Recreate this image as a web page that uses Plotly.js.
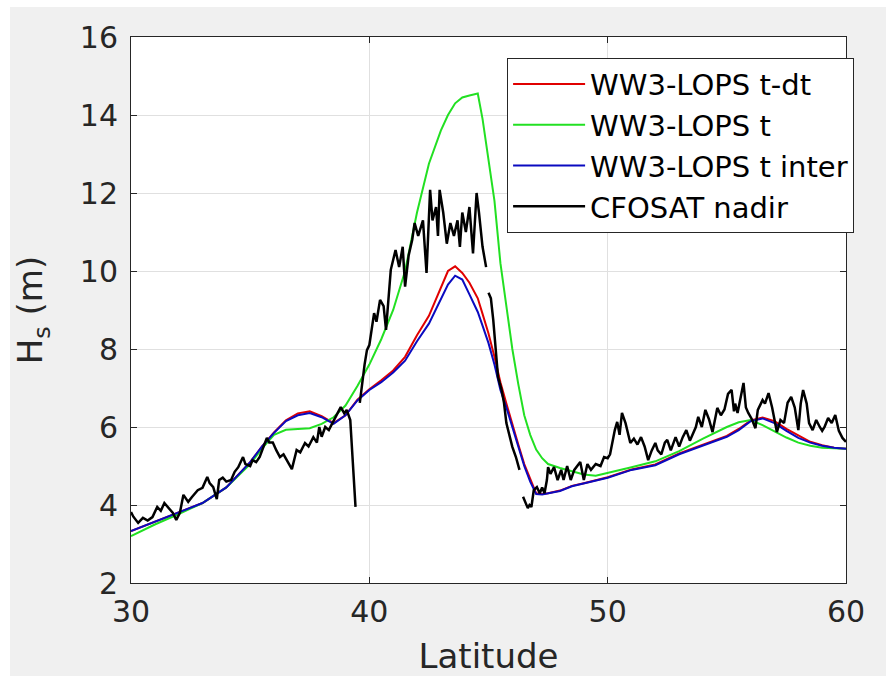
<!DOCTYPE html>
<html>
<head>
<meta charset="utf-8">
<script src="https://cdn.plot.ly/plotly-3.0.1.min.js"></script>
<style>
  html, body { margin: 0; padding: 0; background: #ffffff; width: 890px; height: 676px; overflow: hidden; }
  #chart { position: absolute; left: 10px; top: 7px; width: 876px; height: 669px; }
</style>
</head>
<body>
<div id="chart"></div>
<script>
// ---- Data ----
const seriesNames = ["WW3-LOPS t-dt", "WW3-LOPS t", "WW3-LOPS t inter", "CFOSAT nadir"];

const modelLat = [30, 31, 32, 33, 34, 35, 35.5, 36, 36.5, 37, 37.5, 38, 38.5, 39, 39.5, 40, 40.5, 41, 41.5, 42, 42.5, 43, 43.3, 43.6, 43.9, 44.2, 44.55, 44.75, 45, 45.25, 45.5, 45.75, 46, 46.25, 46.5, 46.75, 47, 47.25, 47.5, 48, 48.5, 49, 49.5, 50, 51, 52, 53, 54, 55, 55.5, 56, 56.5, 57, 57.5, 58, 58.5, 59, 59.5, 60];

const hsTdt = [3.33, 3.57, 3.79, 4.05, 4.45, 5.1, 5.5, 5.86, 6.17, 6.35, 6.4, 6.28, 6.1, 6.3, 6.7, 6.97, 7.2, 7.45, 7.8, 8.35, 8.85, 9.55, 10.0, 10.12, 9.95, 9.7, 9.3, 8.9, 8.4, 7.8, 7.15, 6.6, 6.05, 5.55, 5.05, 4.65, 4.3, 4.28, 4.3, 4.37, 4.49, 4.56, 4.63, 4.71, 4.91, 5.04, 5.32, 5.54, 5.77, 5.95, 6.17, 6.24, 6.15, 5.95, 5.78, 5.62, 5.53, 5.47, 5.44];

const hsT = [3.2, 3.5, 3.77, 4.05, 4.45, 5.05, 5.45, 5.8, 5.93, 5.95, 5.97, 6.08, 6.25, 6.55, 7.05, 7.6, 8.25, 9.0, 10.0, 11.5, 12.75, 13.6, 14.0, 14.3, 14.45, 14.5, 14.55, 13.9, 12.9, 11.8, 10.2, 9.1, 8.0, 7.1, 6.3, 5.8, 5.42, 5.2, 5.05, 4.95, 4.87, 4.78, 4.75, 4.82, 4.97, 5.12, 5.38, 5.7, 6.0, 6.12, 6.18, 6.05, 5.88, 5.73, 5.6, 5.52, 5.47, 5.45, 5.44];

const hsTinter = [3.33, 3.57, 3.79, 4.05, 4.45, 5.1, 5.5, 5.85, 6.15, 6.3, 6.36, 6.25, 6.08, 6.3, 6.68, 6.95, 7.15, 7.4, 7.7, 8.2, 8.65, 9.3, 9.65, 9.88, 9.78, 9.4, 8.95, 8.6, 8.15, 7.6, 6.95, 6.5, 6.0, 5.5, 5.0, 4.6, 4.28, 4.27, 4.3, 4.36, 4.48, 4.55, 4.62, 4.7, 4.9, 5.02, 5.3, 5.52, 5.75, 5.92, 6.15, 6.22, 6.1, 5.9, 5.72, 5.6, 5.52, 5.47, 5.44];

const cfosatLat = [30.0, 30.1, 30.3, 30.5, 30.7, 30.9, 31.1, 31.25, 31.4, 31.6, 31.75, 31.9, 32.05, 32.2, 32.4, 32.55, 32.8, 33.0, 33.2, 33.3, 33.45, 33.6, 33.7, 33.85, 34.0, 34.2, 34.35, 34.5, 34.7, 34.8, 35.0, 35.1, 35.25, 35.4, 35.55, 35.7, 35.8, 35.95, 36.1, 36.25, 36.4, 36.55, 36.75, 36.95, 37.1, 37.3, 37.45, 37.65, 37.8, 37.9, 38.0, 38.15, 38.3, 38.45, 38.6, 38.8, 38.95, 39.05, 39.2, 39.28, 39.35, 39.42, 39.5, 39.6, 39.7, 39.8, 39.9, 40.0, 40.2, 40.3, 40.45, 40.6, 40.7, 40.8, 40.9, 41.1, 41.25, 41.4, 41.5, 41.65, 41.8, 41.9, 42.05, 42.25, 42.4, 42.55, 42.65, 42.8, 42.88, 42.95, 43.1, 43.25, 43.4, 43.55, 43.7, 43.8, 43.9, 44.05, 44.2, 44.35, 44.42, 44.5, 44.6, 44.75, 44.9, 44.95, 45.0, 45.1, 45.2, 45.3, 45.4, 45.55, 45.65, 45.75, 45.9, 46.0, 46.15, 46.3, 46.38, 46.45, 46.55, 46.65, 46.72, 46.8, 46.9, 47.03, 47.15, 47.25, 47.35, 47.45, 47.5, 47.6, 47.75, 47.9, 48.05, 48.15, 48.3, 48.45, 48.6, 48.85, 49.0, 49.15, 49.3, 49.5, 49.7, 49.85, 50.0, 50.1, 50.3, 50.4, 50.5, 50.6, 50.75, 50.95, 51.1, 51.25, 51.4, 51.55, 51.7, 51.85, 52.0, 52.1, 52.25, 52.4, 52.5, 52.65, 52.85, 53.0, 53.15, 53.3, 53.45, 53.55, 53.7, 53.8, 53.95, 54.1, 54.25, 54.4, 54.5, 54.6, 54.75, 54.9, 55.05, 55.2, 55.3, 55.35, 55.45, 55.6, 55.7, 55.8, 55.9, 56.05, 56.2, 56.3, 56.5, 56.6, 56.75, 56.9, 57.0, 57.1, 57.25, 57.4, 57.55, 57.7, 57.85, 58.0, 58.1, 58.2, 58.35, 58.45, 58.6, 58.75, 58.9, 59.0, 59.1, 59.25, 59.4, 59.55, 59.7, 59.85, 60.0];

const cfosatHs = [3.82, 3.7, 3.54, 3.67, 3.6, 3.69, 3.95, 3.85, 4.05, 3.92, 3.8, 3.62, 3.8, 4.26, 4.08, 4.2, 4.38, 4.44, 4.72, 4.56, 4.46, 4.15, 4.64, 4.7, 4.6, 4.64, 4.85, 4.97, 5.23, 5.05, 5.0, 5.15, 5.1, 5.23, 5.46, 5.72, 5.6, 5.6, 5.4, 5.23, 5.3, 5.15, 4.92, 5.41, 5.35, 5.59, 5.5, 5.74, 5.6, 6.0, 5.75, 6.0, 5.92, 6.1, 6.26, 6.51, 6.35, 6.44, 6.18, 5.35, 4.5, 3.95, null, 6.62, 7.2, 7.6, 7.97, 8.1, 8.92, 8.7, 9.26, 9.1, 8.49, 9.2, 10.03, 10.54, 10.1, 10.62, 9.6, 10.4, 10.8, 11.23, 10.9, 11.3, 9.95, 12.08, 11.3, 11.64, 10.9, 12.08, 11.5, 10.7, 11.23, 10.9, 11.3, 10.62, 11.5, 11.0, 11.64, 10.45, 11.3, 12.0, 11.5, 10.62, 10.1, null, 9.44, 9.3, 8.74, 7.9, 7.28, 6.95, 6.62, 6.1, 5.74, 5.49, 5.23, 4.9, null, 4.21, 4.05, 3.92, 4.0, 3.95, 4.38, 4.46, 4.3, 4.45, 4.3, 4.64, 4.97, 4.8, 4.97, 4.64, 4.9, 4.64, 5.0, 4.64, 4.9, 5.1, 4.64, 5.05, 4.9, 5.05, 5.0, 5.23, 5.2, 5.3, 5.92, 6.13, 5.8, 6.36, 6.1, 5.59, 5.7, 5.55, 5.74, 5.5, 5.15, 5.4, 5.59, 5.4, 5.3, 5.6, 5.67, 5.4, 5.74, 5.5, 5.74, 5.92, 5.65, 5.8, 6.0, 6.26, 6.0, 6.44, 6.2, 5.87, 6.2, 6.49, 6.3, 6.45, 6.85, 6.95, 6.4, 6.6, 6.36, 6.87, 7.13, 6.5, 6.36, 6.2, 5.97, 6.44, 6.69, 6.6, 6.87, 6.5, 6.2, 5.87, 6.18, 6.1, 6.62, 6.77, 6.5, 5.92, 6.6, 6.95, 6.6, 6.1, 5.92, 6.18, 6.0, 5.9, 6.0, 6.23, 6.1, 6.31, 5.9, 5.72, 5.62];

const xTicks = [30, 40, 50, 60];
const yTicks = [2, 4, 6, 8, 10, 12, 14, 16];

// ---- Chart ----
const FONT = "DejaVu Sans, sans-serif";
const INK = "#262626";

const traces = [
  { x: modelLat, y: hsTdt, name: seriesNames[0], mode: "lines",
    line: { color: "#e00000", width: 2 } },
  { x: modelLat, y: hsT, name: seriesNames[1], mode: "lines",
    line: { color: "#22e022", width: 2 } },
  { x: modelLat, y: hsTinter, name: seriesNames[2], mode: "lines",
    line: { color: "#0a0ac0", width: 2 } },
  { x: cfosatLat, y: cfosatHs, name: seriesNames[3], mode: "lines",
    connectgaps: false, line: { color: "#000000", width: 2.5 } }
];

const layout = {
  width: 876, height: 669,
  paper_bgcolor: "#f0f0f0",
  plot_bgcolor: "#ffffff",
  margin: { l: 121, r: 40, t: 30, b: 93, pad: 0 },
  font: { family: FONT, color: INK, size: 30 },
  showlegend: true,
  legend: {
    x: 0.526, y: 0.962, xanchor: "left", yanchor: "top",
    bgcolor: "#ffffff", bordercolor: INK, borderwidth: 1,
    font: { family: FONT, size: 29, color: "#000000" },
    itemwidth: 72, traceorder: "normal"
  },
  xaxis: {
    range: [30, 60], tickvals: xTicks, ticktext: xTicks.map(String),
    showgrid: true, gridcolor: "#e0e0e0", gridwidth: 1,
    zeroline: false, showline: true, linecolor: INK, linewidth: 1, mirror: "ticks",
    ticks: "inside", ticklen: 6, tickcolor: INK, ticklabelstandoff: 2,
    tickfont: { family: FONT, size: 30, color: INK },
    title: { text: "Latitude", font: { family: FONT, size: 34, color: INK }, standoff: 18 },
    automargin: false
  },
  yaxis: {
    range: [2, 16], tickvals: yTicks, ticktext: yTicks.map(String),
    showgrid: true, gridcolor: "#e0e0e0", gridwidth: 1,
    zeroline: false, showline: true, linecolor: INK, linewidth: 1, mirror: "ticks",
    ticks: "inside", ticklen: 6, tickcolor: INK, ticklabelstandoff: 6,
    tickfont: { family: FONT, size: 30, color: INK },
    title: { text: "H<sub>s</sub> (m)", font: { family: FONT, size: 34, color: INK }, standoff: 26 },
    automargin: false
  }
};

Plotly.newPlot("chart", traces, layout, { displayModeBar: false, staticPlot: true });
</script>
</body>
</html>
